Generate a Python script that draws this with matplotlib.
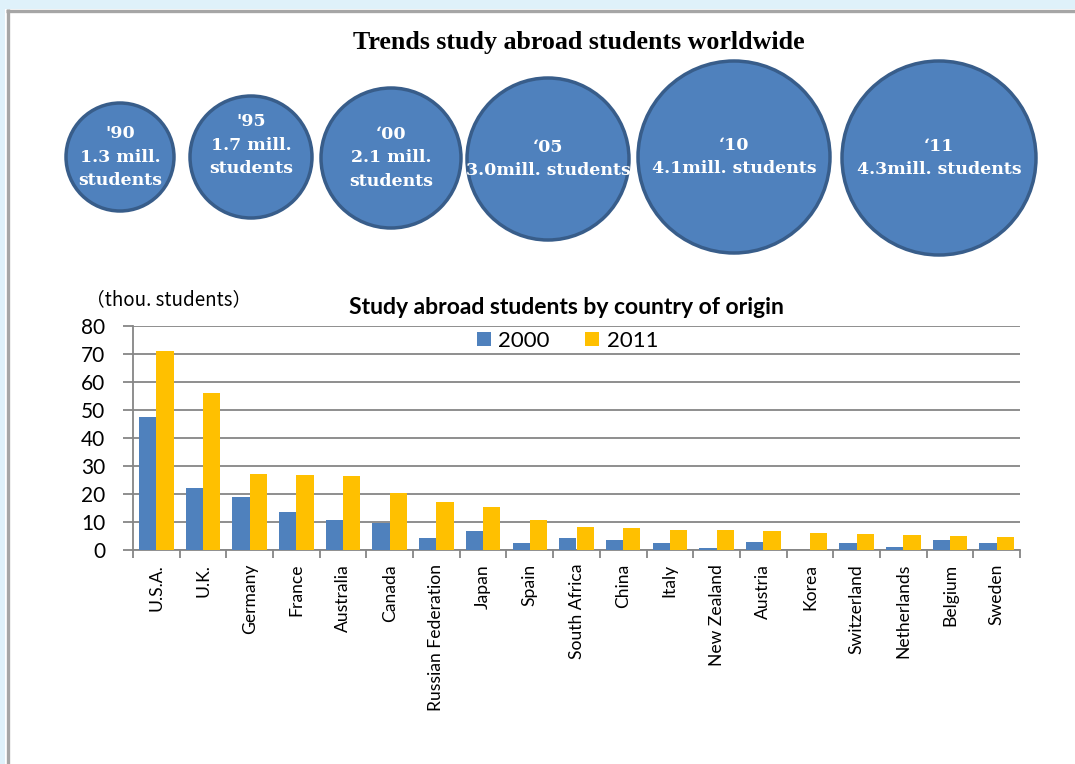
import matplotlib.pyplot as plt
import numpy as np
from matplotlib.patches import Ellipse, Rectangle

# bubble data (top row)
years = ["'90", "'95", "\u201800", "\u201805", "\u201810", "\u201811"]
millions = ["1.3 mill.\nstudents", "1.7 mill.\nstudents", "2.1 mill.\nstudents",
            "3.0mill. students", "4.1mill. students", "4.3mill. students"]

# bar chart data
countries = ["U.S.A.", "U.K.", "Germany", "France", "Australia", "Canada",
             "Russian Federation", "Japan", "Spain", "South Africa", "China",
             "Italy", "New Zealand", "Austria", "Korea", "Switzerland",
             "Netherlands", "Belgium", "Sweden"]
y2000 = [47.5, 22.3, 18.9, 13.7, 10.6, 9.6, 4.2, 6.8, 2.6, 4.3, 3.5,
         2.4, 0.7, 2.9, 0.0, 2.6, 1.2, 3.7, 2.6]
y2011 = [70.9, 55.9, 27.2, 26.9, 26.3, 20.4, 17.2, 15.2, 10.7, 8.1, 7.8,
         7.2, 7.1, 6.8, 6.1, 5.7, 5.5, 5.0, 4.8]

# bubble layout in pixels (center x, center y, radius, text offset)
cx = [120, 251, 391, 548, 734, 939]
cy = [157, 157, 158, 159, 157, 158]
rad = [54, 61, 70, 81, 96, 97]
toff = [0, -12, 0, 0, 0, 0]

W, H = 1075, 764
fig = plt.figure(figsize=(W / 100, H / 100), dpi=100)

bg = fig.add_axes([0, 0, 1, 1])
bg.set_xlim(0, W)
bg.set_ylim(H, 0)
bg.axis('off')

# page frame
bg.add_patch(Rectangle((0, 0), W, 9, color='#dff1fa', lw=0))
bg.add_patch(Rectangle((0, 0), 4.5, H, color='#dff1fa', lw=0))
bg.plot([6, W], [10.5, 10.5], color='#a6a6a6', lw=2.4, solid_capstyle='butt')
bg.plot([7.5, 7.5], [9, H], color='#a6a6a6', lw=2.4, solid_capstyle='butt')

bg.text(579, 42, "Trends study abroad students worldwide", ha='center', va='center',
        fontsize=18.7, fontweight='bold', family='Liberation Serif')

for i in range(len(years)):
    bg.add_patch(Ellipse((cx[i], cy[i]), 2 * rad[i], 2 * rad[i],
                         facecolor='#4f81bd', edgecolor='#385d8a', lw=2.5))
    bg.text(cx[i], cy[i] + toff[i], years[i] + "\n" + millions[i], ha='center', va='center',
            color='white', fontsize=12.5, fontweight='bold', family='DejaVu Serif',
            linespacing=1.5)

# bar chart
ax = fig.add_axes([133 / W, 1 - 550 / H, (1020 - 133) / W, (550 - 326) / H])
x = np.arange(len(countries))
w = 0.37
ax.bar(x - w / 2, y2000, w, color='#4f81bd', label='2000', zorder=3)
ax.bar(x + w / 2, y2011, w, color='#ffc000', label='2011', zorder=3)

ax.set_xlim(-0.5, len(countries) - 0.5)
ax.set_ylim(0, 80)
ax.set_yticks(range(0, 81, 10))
ax.yaxis.grid(True, color='#868686', lw=1.3, zorder=0)
ax.set_xticks(x)
ax.set_xticklabels(countries, rotation=90, fontsize=12.6, family='Lato')
ax.set_xticks(np.arange(-0.5, len(countries), 1), minor=True)
ax.tick_params(axis='x', which='major', length=0, pad=10)
ax.tick_params(axis='x', which='minor', length=6, color='#868686', width=1.3)
ax.tick_params(axis='y', length=7, color='#868686', width=1.3, labelsize=15, pad=13)
for lab in ax.get_yticklabels():
    lab.set_family('Lato')
for s in ['top', 'right']:
    ax.spines[s].set_visible(False)
for s in ['left', 'bottom']:
    ax.spines[s].set_color('#868686')
    ax.spines[s].set_linewidth(1.3)

ax.legend(loc='center', bbox_to_anchor=(0.49, 0.935), ncol=2, frameon=False,
          prop={'family': 'Lato', 'size': 16}, handlelength=0.6, handleheight=0.6,
          handletextpad=0.35, columnspacing=1.6, borderpad=0)

bg.text(566, 308, "Study abroad students by country of origin", ha='center', va='center',
        fontsize=16.5, fontweight='bold', family='Lato')
bg.text(169, 300, "\uff08thou. students\uff09", ha='center', va='center',
        fontsize=13.5, family=['Noto Sans CJK JP'])

fig.savefig('out.png', dpi=100)
